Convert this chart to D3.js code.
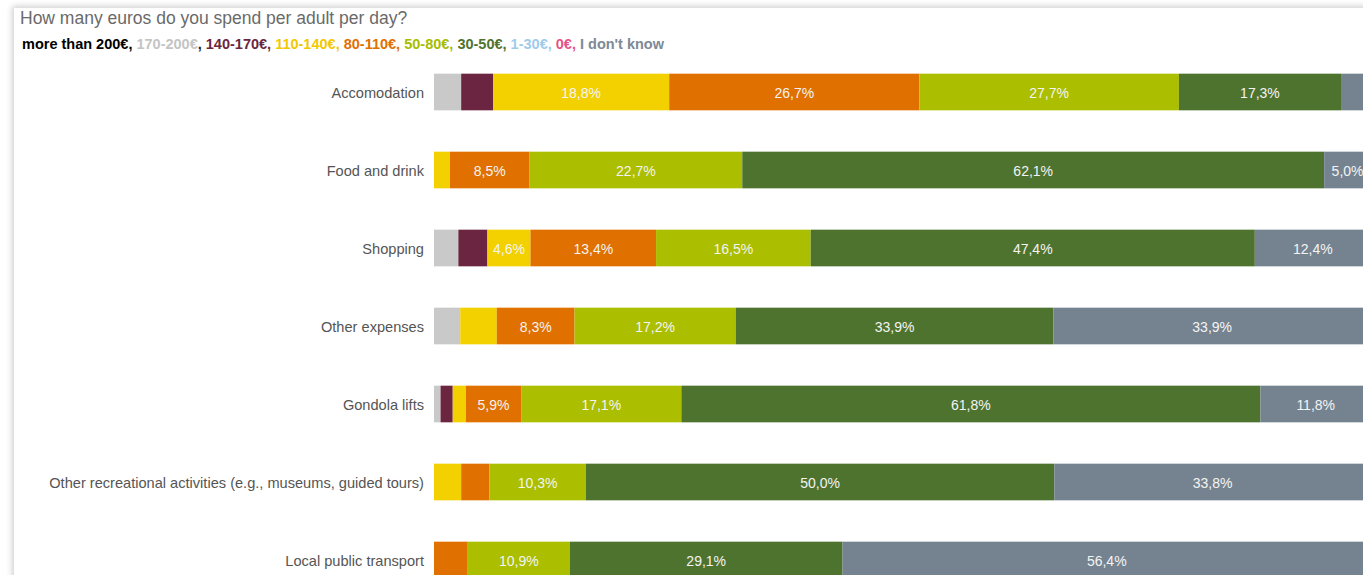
<!DOCTYPE html>
<html>
<head>
<meta charset="utf-8">
<script src="https://cdn.jsdelivr.net/npm/d3@7"></script>
<style>
  html, body { margin: 0; padding: 0; background: #ffffff; overflow: hidden; }
  #card { position: absolute; left: 14px; top: 8px; width: 1400px; height: 620px; background: #fff;
          box-shadow: 0 0 6px 2px rgba(0,0,0,0.18); }
  svg { position: absolute; left: 0; top: 0; }
</style>
</head>
<body>
<div id="card"></div>
<svg id="chart" width="1363" height="575"></svg>
<script>
const title = "How many euros do you spend per adult per day?";
const seriesNames = ["more than 200€", "170-200€", "140-170€", "110-140€", "80-110€", "50-80€", "30-50€", "1-30€", "0€", "I don't know"];
const seriesColors = ["#111111", "#c9c9c9", "#6b2540", "#f3d000", "#e07000", "#abbe00", "#4e732f", "#9fcbea", "#e45486", "#74838f"];
const legendColors = ["#000000", "#c4c4c4", "#6b2540", "#f3c800", "#e07000", "#a8bc00", "#4e732f", "#9fcbea", "#e45486", "#7d8a96"];
const categories = ["Accomodation", "Food and drink", "Shopping", "Other expenses", "Gondola lifts",
                    "Other recreational activities (e.g., museums, guided tours)", "Local public transport"];
// values per series (percent), one per category
const moreThan200 = [0, 0, 0, 0, 0, 0, 0];
const v170_200    = [2.9, 0, 2.6, 2.8, 0.7, 0, 0];
const v140_170    = [3.4, 0, 3.1, 0, 1.3, 0, 0];
const v110_140    = [18.8, 1.7, 4.6, 3.9, 1.4, 2.9, 0];
const v80_110     = [26.7, 8.5, 13.4, 8.3, 5.9, 3.0, 3.6];
const v50_80      = [27.7, 22.7, 16.5, 17.2, 17.1, 10.3, 10.9];
const v30_50      = [17.3, 62.1, 47.4, 33.9, 61.8, 50.0, 29.1];
const v1_30       = [0, 0, 0, 0, 0, 0, 0];
const v0          = [0, 0, 0, 0, 0, 0, 0];
const dontKnow    = [3.2, 5.0, 12.4, 33.9, 11.8, 33.8, 56.4];
const seriesValues = [moreThan200, v170_200, v140_170, v110_140, v80_110, v50_80, v30_50, v1_30, v0, dontKnow];

const svg = d3.select("#chart");
const font = "'Liberation Sans', Arial, sans-serif";

svg.append("text").attr("x", 20).attr("y", 24).attr("font-family", font)
  .attr("font-size", 17.5).attr("fill", "#6a6a6a").text(title);

const legend = svg.append("text").attr("x", 22).attr("y", 49).attr("font-family", font)
  .attr("font-size", 14.5).attr("font-weight", "bold");
seriesNames.forEach((n, i) => {
  legend.append("tspan").attr("fill", legendColors[i]).text(n);
  if (i < seriesNames.length - 1) {
    legend.append("tspan").attr("fill", i === 1 ? "#222" : legendColors[i]).text(", ");
  }
});

const x = d3.scaleLinear().domain([0, 100]).range([434, 1371]);
const y = d3.scaleBand().domain(categories).range([53, 599]).paddingInner(0.53).paddingOuter(0.265);

const rows = categories.map((c, ci) => {
  let acc = 0;
  return seriesValues.map((arr, si) => {
    const v = arr[ci];
    const d = { cat: c, si, v, x0: acc, x1: acc + v };
    acc += v;
    return d;
  }).filter(d => d.v > 0);
});

const g = svg.append("g");
rows.forEach(row => {
  g.selectAll(null).data(row).enter().append("rect")
    .attr("x", d => x(d.x0)).attr("width", d => x(d.x1) - x(d.x0))
    .attr("y", d => y(d.cat)).attr("height", y.bandwidth())
    .attr("fill", d => seriesColors[d.si]);
  g.selectAll(null).data(row.filter(d => d.v >= 4.5)).enter().append("text")
    .attr("x", d => (x(d.x0) + x(d.x1)) / 2).attr("y", d => y(d.cat) + y.bandwidth() / 2 + 1)
    .attr("dy", "0.35em").attr("text-anchor", "middle")
    .attr("font-family", font).attr("font-size", 14).attr("fill", "#f4f4f4")
    .text(d => d.v.toFixed(1).replace(".", ",") + "%");
});

const axis = d3.axisLeft(y).tickSize(0).tickPadding(10);
const ag = svg.append("g").attr("transform", "translate(434,1)").call(axis);
ag.select(".domain").remove();
ag.selectAll("text").attr("font-family", font).attr("font-size", 14.6).attr("fill", "#555");
</script>
</body>
</html>
